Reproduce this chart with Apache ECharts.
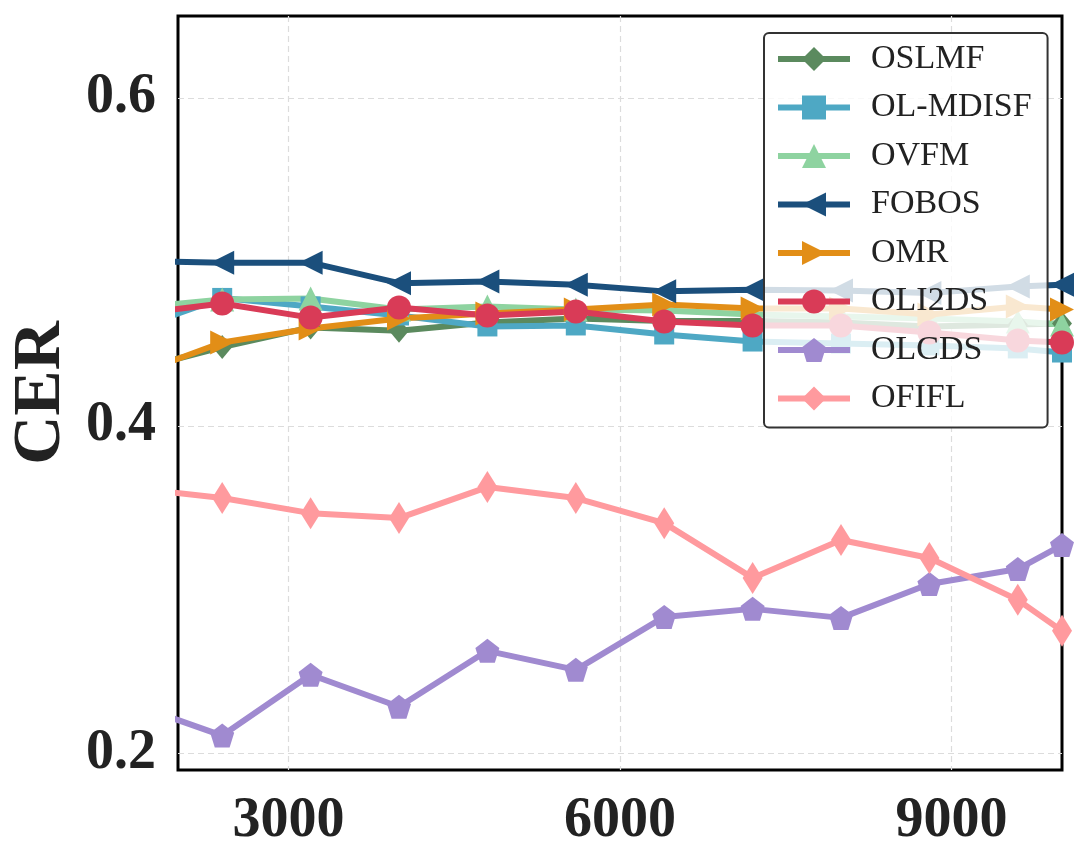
<!DOCTYPE html>
<html>
<head>
<meta charset="utf-8">
<script src="https://cdn.jsdelivr.net/npm/echarts@6/dist/echarts.min.js"></script>
<style>html,body{margin:0;padding:0;background:#fff}#c{width:1080px;height:858px}</style>
</head>
<body>
<div id="c"></div>
<script>
// x positions (number of instances); 1600 lies left of the visible window
const xValues = [1600, 2400, 3200, 4000, 4800, 5600, 6400, 7200, 8000, 8800, 9600, 10000];
const xTicks = [3000, 6000, 9000];
const yTicks = [0.2, 0.4, 0.6];

const OSLMF    = [0.434, 0.448, 0.460, 0.458, 0.463, 0.4655, 0.464, 0.464, 0.463, 0.4606, 0.4618, 0.4624];
const OL_MDISF = [0.459, 0.478, 0.4728, 0.4673, 0.4606, 0.4612, 0.4557, 0.4514, 0.4502, 0.449, 0.4472, 0.4447];
const OVFM     = [0.472, 0.477, 0.4776, 0.4709, 0.4728, 0.4709, 0.4703, 0.4679, 0.4667, 0.4654, 0.4636, 0.4618];
const FOBOS    = [0.5005, 0.4995, 0.4995, 0.487, 0.488, 0.486, 0.482, 0.483, 0.4825, 0.481, 0.485, 0.486];
const OMR      = [0.431, 0.4508, 0.4594, 0.4655, 0.4685, 0.4709, 0.474, 0.4715, 0.4715, 0.4679, 0.4728, 0.4709];
const OLI2DS   = [0.468, 0.4746, 0.466, 0.4721, 0.4673, 0.4697, 0.4636, 0.4612, 0.4612, 0.4569, 0.452, 0.4508];
const OLCDS    = [0.230, 0.211, 0.2481, 0.2286, 0.2627, 0.2511, 0.2834, 0.2883, 0.2828, 0.3035, 0.3126, 0.3272];
const OFIFL    = [0.362, 0.3559, 0.3467, 0.3437, 0.3626, 0.3559, 0.3406, 0.3072, 0.3303, 0.3193, 0.2938, 0.2749];

const names = ['OSLMF', 'OL-MDISF', 'OVFM', 'FOBOS', 'OMR', 'OLI2DS', 'OLCDS', 'OFIFL'];
const values = [OSLMF, OL_MDISF, OVFM, FOBOS, OMR, OLI2DS, OLCDS, OFIFL];
const colors = ['#5b8a5e', '#4ea8c4', '#8ed3a0', '#1b4f7c', '#e28e17', '#d93b57', '#a08ad0', '#ff9a9e'];
const pentagon = 'path://M0,-1 L0.951,-0.309 L0.588,0.809 L-0.588,0.809 L-0.951,-0.309 Z';
const symbols = ['diamond', 'rect', 'triangle', 'triangle', 'triangle', 'circle', pentagon, 'diamond'];
const rotations = [0, 0, 0, 90, -90, 0, 0, 0];
const sizes = [[20, 24], 20, 24, 24, 24, 24, 24, [20, 32]];

const FONT = '"Liberation Serif", "Times New Roman", serif';

const chart = echarts.init(document.getElementById('c'), null, {renderer: 'canvas'});
chart.setOption({
  animation: false,
  backgroundColor: '#fff',
  grid: {left: 178, right: 18, top: 16, bottom: 88, containLabel: false, outerBoundsMode: 'none',
    show: true, borderColor: '#000', borderWidth: 3, backgroundColor: 'transparent'},
  legend: {
    orient: 'vertical', left: 764, top: 33,
    data: names,
    itemWidth: 72, itemHeight: 30, itemGap: 14.5,
    padding: [9, 16, 12, 11],
    backgroundColor: 'rgba(255,255,255,0.8)',
    borderColor: '#333', borderWidth: 2, borderRadius: 5,
    lineStyle: {width: 6},
    textStyle: {fontFamily: FONT, fontSize: 34, color: '#222', padding: [0, 0, 0, 16]}
  },
  xAxis: {
    type: 'value', min: 2000, max: 10000,
    axisLine: {show: false},
    axisTick: {show: false, customValues: xTicks},
    axisLabel: {customValues: xTicks, fontFamily: FONT, fontWeight: 'bold', fontSize: 56, color: '#222', margin: 24,
      formatter: v => String(v)},
    splitLine: {show: true, lineStyle: {color: '#dcdcdc', type: [6, 4], width: 1.2}}
  },
  yAxis: {
    type: 'value', min: 0.19, max: 0.65,
    name: 'CER', nameLocation: 'middle', nameGap: 100,
    nameTextStyle: {fontFamily: FONT, fontWeight: 'bold', fontSize: 68, color: '#222'},
    axisLine: {show: false},
    axisTick: {show: false, customValues: yTicks},
    axisLabel: {customValues: yTicks, fontFamily: FONT, fontWeight: 'bold', fontSize: 56, color: '#222', margin: 22,
      formatter: v => v.toFixed(1)},
    splitLine: {show: true, lineStyle: {color: '#dcdcdc', type: [6, 4], width: 1.2}}
  },
  series: names.map((n, i) => ({
    name: n, type: 'line',
    data: xValues.map((x, j) => [x, values[i][j]]),
    clip: true,
    color: colors[i],
    symbol: symbols[i], symbolSize: sizes[i], symbolRotate: rotations[i],
    showAllSymbol: true,
    lineStyle: {width: 6, color: colors[i]},
    itemStyle: {color: colors[i]}
  }))
});
</script>
</body>
</html>
